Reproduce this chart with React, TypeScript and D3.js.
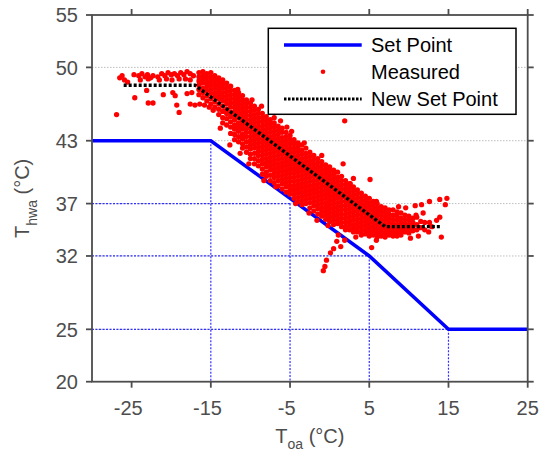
import * as d3 from 'd3';
import React from 'react';

// axis ticks
const xTicks = [-25, -15, -5, 5, 15, 25];
const yTicks = [20, 25, 32, 37, 43, 50, 55];

// design set point curve
const setPointX = [-30, -15, 5, 15, 25];
const setPointY = [43, 43, 32, 25, 25];

// proposed set point curve
const newSetPointX = [-26, -17, 7, 14];
const newSetPointY = [48.3, 48.3, 34.8, 34.8];

// dotted guide lines dropped from the set point breaks
const guideX = [-15, -5, 5, 15];
const guideY = [43, 37, 32, 25];

// measured cloud, read column by column: [T_oa, list of T_hwa]
const measuredColumns: [number, number[]][] = [
  [-16.5, [49.5, 49.1, 48.7, 48.3, 47.9, 47.4]],
  [-16.0, [49.6, 49.2, 48.9, 48.5, 48.0, 47.6, 47.1]],
  [-15.5, [49.4, 49.0, 48.6, 48.2, 47.8, 47.3, 46.8]],
  [-15.0, [49.5, 49.1, 48.7, 48.3, 47.9, 47.5, 47.0, 46.5]],
  [-14.5, [49.2, 48.8, 48.4, 48.0, 47.6, 47.2, 46.7, 46.2]],
  [-14.0, [49.0, 48.6, 48.2, 47.8, 47.4, 47.0, 46.5, 46.0, 45.5]],
  [-13.5, [48.8, 48.4, 48.0, 47.6, 47.2, 46.8, 46.3, 45.8, 45.2, 44.7]],
  [-13.0, [48.5, 48.1, 47.7, 47.3, 46.9, 46.5, 46.0, 45.6, 45.1, 44.5]],
  [-12.5, [48.2, 47.8, 47.4, 47.0, 46.6, 46.2, 45.7, 45.3, 44.8, 44.3, 43.7]],
  [-12.0, [47.8, 47.4, 47.0, 46.6, 46.2, 45.8, 45.4, 45.0, 44.5, 44.1, 43.6, 43.1]],
  [-11.5, [47.6, 47.2, 46.8, 46.4, 46.0, 45.6, 45.2, 44.7, 44.3, 43.9, 43.4, 42.9]],
  [-11.0, [47.3, 46.9, 46.5, 46.1, 45.7, 45.3, 44.9, 44.5, 44.1, 43.6, 43.2, 42.7, 42.3]],
  [-10.5, [46.9, 46.6, 46.2, 45.8, 45.4, 45.0, 44.6, 44.2, 43.8, 43.4, 42.9, 42.4, 41.9]],
  [-10.0, [46.6, 46.2, 45.8, 45.4, 45.0, 44.6, 44.2, 43.8, 43.4, 43.0, 42.6, 42.2, 41.7, 41.3]],
  [-9.5, [46.3, 45.9, 45.5, 45.1, 44.7, 44.3, 43.9, 43.5, 43.1, 42.7, 42.3, 41.8, 41.3, 40.8]],
  [-9.0, [46.0, 45.6, 45.2, 44.8, 44.4, 44.0, 43.6, 43.2, 42.8, 42.4, 42.0, 41.6, 41.1, 40.6]],
  [-8.5, [45.6, 45.2, 44.8, 44.4, 44.0, 43.6, 43.2, 42.8, 42.4, 42.0, 41.6, 41.2, 40.8, 40.3, 39.8]],
  [-8.0, [45.3, 44.9, 44.5, 44.1, 43.7, 43.3, 42.9, 42.5, 42.1, 41.7, 41.3, 40.9, 40.5, 40.0, 39.6]],
  [-7.5, [45.0, 44.6, 44.2, 43.8, 43.4, 43.0, 42.6, 42.2, 41.8, 41.4, 41.0, 40.6, 40.2, 39.7, 39.2]],
  [-7.0, [44.7, 44.3, 43.9, 43.5, 43.1, 42.7, 42.3, 41.9, 41.5, 41.1, 40.7, 40.3, 39.9, 39.5, 39.0]],
  [-6.5, [44.4, 44.0, 43.6, 43.2, 42.8, 42.4, 42.0, 41.6, 41.2, 40.8, 40.4, 40.0, 39.6, 39.2, 38.7]],
  [-6.0, [44.2, 43.8, 43.3, 42.9, 42.5, 42.1, 41.7, 41.3, 40.9, 40.5, 40.1, 39.7, 39.3, 38.9, 38.4]],
  [-5.5, [43.8, 43.4, 43.0, 42.6, 42.2, 41.8, 41.4, 41.0, 40.6, 40.2, 39.8, 39.4, 39.0, 38.6, 38.1]],
  [-5.0, [43.5, 43.1, 42.7, 42.3, 41.9, 41.5, 41.1, 40.7, 40.3, 39.9, 39.5, 39.1, 38.7, 38.3, 37.9]],
  [-4.5, [43.1, 42.7, 42.3, 41.9, 41.5, 41.1, 40.7, 40.3, 39.9, 39.5, 39.1, 38.7, 38.3, 37.9, 37.5]],
  [-4.0, [42.8, 42.4, 42.0, 41.6, 41.2, 40.8, 40.4, 40.0, 39.6, 39.2, 38.8, 38.4, 38.0, 37.6, 37.2]],
  [-3.5, [42.6, 42.1, 41.7, 41.3, 40.9, 40.5, 40.1, 39.7, 39.3, 38.9, 38.5, 38.1, 37.7, 37.3, 36.9]],
  [-3.0, [42.3, 41.8, 41.4, 41.0, 40.6, 40.2, 39.8, 39.4, 39.0, 38.6, 38.2, 37.8, 37.4, 37.0]],
  [-2.5, [41.9, 41.5, 41.1, 40.7, 40.3, 39.9, 39.5, 39.1, 38.7, 38.3, 37.9, 37.5, 37.1, 36.6]],
  [-2.0, [41.6, 41.2, 40.8, 40.4, 40.0, 39.6, 39.2, 38.8, 38.4, 38.0, 37.6, 37.2, 36.8, 36.3]],
  [-1.5, [41.3, 40.9, 40.5, 40.1, 39.7, 39.3, 38.9, 38.5, 38.1, 37.7, 37.3, 36.9, 36.5, 36.0]],
  [-1.0, [41.0, 40.6, 40.2, 39.8, 39.4, 39.0, 38.6, 38.2, 37.8, 37.4, 37.0, 36.6, 36.2, 35.8]],
  [-0.5, [40.7, 40.3, 39.9, 39.5, 39.1, 38.7, 38.3, 37.9, 37.5, 37.1, 36.7, 36.3, 35.9, 35.5]],
  [0.0, [40.5, 40.1, 39.7, 39.3, 38.9, 38.5, 38.1, 37.7, 37.3, 36.9, 36.5, 36.1, 35.7, 35.3]],
  [0.5, [40.2, 39.8, 39.4, 39.0, 38.6, 38.2, 37.8, 37.4, 37.0, 36.6, 36.2, 35.8, 35.4, 35.0]],
  [1.0, [40.0, 39.5, 39.1, 38.7, 38.3, 37.9, 37.5, 37.1, 36.7, 36.3, 35.9, 35.5, 35.1]],
  [1.5, [39.6, 39.2, 38.8, 38.4, 38.0, 37.6, 37.2, 36.8, 36.4, 36.0, 35.6, 35.2, 34.8]],
  [2.0, [39.2, 38.8, 38.4, 38.0, 37.6, 37.2, 36.8, 36.4, 36.0, 35.6, 35.2, 34.8, 34.5]],
  [2.5, [38.9, 38.5, 38.1, 37.7, 37.3, 36.9, 36.5, 36.1, 35.7, 35.3, 34.9, 34.5]],
  [3.0, [38.6, 38.2, 37.8, 37.4, 37.0, 36.6, 36.2, 35.8, 35.4, 35.0, 34.6, 34.3]],
  [3.5, [38.3, 37.9, 37.5, 37.1, 36.7, 36.3, 35.9, 35.5, 35.1, 34.7, 34.3]],
  [4.0, [38.0, 37.6, 37.2, 36.8, 36.4, 36.0, 35.6, 35.2, 34.8, 34.4, 34.0]],
  [4.5, [37.7, 37.3, 36.9, 36.5, 36.1, 35.7, 35.3, 34.9, 34.5, 34.1]],
  [5.0, [37.5, 37.1, 36.7, 36.3, 35.9, 35.5, 35.1, 34.7, 34.3, 33.9]],
  [5.5, [37.2, 36.8, 36.4, 36.0, 35.6, 35.2, 34.8, 34.4, 34.0]],
  [6.0, [37.0, 36.6, 36.2, 35.8, 35.4, 35.0, 34.6, 34.2, 33.8]],
  [6.5, [36.7, 36.3, 35.9, 35.5, 35.1, 34.7, 34.3, 33.9]],
  [7.0, [36.6, 36.2, 35.8, 35.4, 35.0, 34.6, 34.2, 33.8]],
  [7.5, [36.4, 36.0, 35.6, 35.2, 34.8, 34.4, 34.0]],
  [8.0, [36.4, 35.9, 35.5, 35.1, 34.7, 34.3, 33.9]],
  [8.5, [36.2, 35.8, 35.4, 35.0, 34.6, 34.2, 33.9]],
  [9.0, [36.1, 35.6, 35.2, 34.8, 34.4, 34.0]],
  [9.5, [35.9, 35.5, 35.1, 34.7, 34.3]],
  [10.0, [35.8, 35.4, 35.0, 34.6, 34.2]],
  [10.5, [35.6, 35.2, 34.8, 34.4]],
  [11.0, [35.7, 35.0, 34.5]],
  [11.5, [35.3, 34.7]],
  [12.0, [35.2, 34.5]],
];

// measured points outside the dense band
const measuredScatter: [number, number][] = [
  [-26.9, 45.5], [-26.5, 49.0], [-26.2, 49.2], [-25.9, 48.8], [-25.5, 48.6],
  [-24.7, 49.3], [-24.6, 47.1], [-24.1, 49.2], [-23.9, 48.8], [-23.7, 49.4],
  [-23.3, 49.1], [-23.0, 49.3], [-22.9, 48.9], [-22.6, 49.0], [-22.3, 49.2],
  [-23.1, 47.8], [-22.9, 46.6], [-22.3, 46.6], [-21.7, 49.1], [-21.5, 48.8],
  [-21.2, 49.4], [-20.8, 49.2], [-20.6, 48.9], [-20.4, 49.5], [-20.0, 49.3],
  [-19.9, 48.8], [-19.6, 49.4], [-19.2, 49.2], [-19.0, 48.9], [-18.8, 49.5],
  [-18.4, 49.3], [-18.2, 48.9], [-18.0, 49.6], [-17.6, 49.4], [-17.6, 48.8],
  [-17.2, 49.2], [-21.0, 47.4], [-19.8, 47.6], [-19.5, 47.3], [-19.3, 46.4],
  [-19.0, 45.7], [-18.0, 47.5], [-17.4, 47.6], [-17.6, 46.5], [-17.0, 46.4],
  [-16.4, 46.5], [-15.8, 46.4], [-15.2, 46.2], [-14.7, 45.9],
  [-11.6, 47.9], [-8.6, 46.3], [-7.0, 45.2], [-6.2, 44.9], [-5.4, 44.3],
  [-3.2, 42.8], [-1.0, 41.6], [1.7, 40.8], [1.9, 44.9], [3.0, 39.4],
  [5.1, 39.3], [2.6, 38.9], [5.9, 37.2], [-9.8, 46.9], [-4.8, 43.9],
  [-12.6, 42.6], [-11.3, 41.8], [-10.2, 40.8], [-8.3, 39.2], [-4.3, 37.0],
  [-2.6, 36.1], [-1.6, 35.4], [5.9, 33.5], [6.1, 34.1], [5.3, 32.8],
  [-13.8, 44.2], [-6.8, 38.6], [-0.2, 34.9], [3.3, 33.8],
  [1.9, 33.5], [1.4, 32.9], [1.1, 34.0], [0.9, 33.4], [0.5, 32.7],
  [0.1, 32.3], [-0.4, 31.6], [-0.6, 31.0], [-0.8, 30.6],
  [10.8, 36.8], [11.6, 36.9], [12.6, 37.2], [13.9, 37.4], [14.8, 37.5],
  [14.6, 36.9], [11.8, 36.1], [12.6, 35.2], [13.5, 35.4], [13.9, 35.7],
  [12.5, 34.3], [14.1, 33.8], [9.6, 36.6], [8.7, 36.7], [10.2, 33.7],
  [11.2, 33.9], [12.9, 34.8], [10.9, 35.9],
];

const legendItems = ['Set Point', 'Measured', 'New Set Point'];

const font = "'Liberation Sans', Arial, sans-serif";
const axisColor = '#4d4d4d';

export default function App() {
  const width = 540;
  const height = 452;
  const left = 92;
  const right = 527.7;
  const top = 15;
  const bottom = 381.7;

  const xScale = d3.scaleLinear().domain([-30, 25]).range([left, right]);
  const yScale = d3.scaleLinear().domain([20, 55]).range([bottom, top]);

  const line = d3
    .line<[number, number]>()
    .x(d => xScale(d[0]))
    .y(d => yScale(d[1]));

  const setPoint = setPointX.map((x, i) => [x, setPointY[i]] as [number, number]);
  const newSetPoint = newSetPointX.map((x, i) => [x, newSetPointY[i]] as [number, number]);

  const measured: [number, number][] = [];
  measuredColumns.forEach(([x, ys]) => ys.forEach(y => measured.push([x, y])));
  measuredScatter.forEach(p => measured.push(p));

  const legendX = 268.3;
  const legendY = 28.3;
  const rowY = [45, 71.7, 99];

  return (
    <svg
      width={width}
      height={height}
      style={{ position: 'absolute', left: 0, top: 0, background: '#fff' }}
      fontFamily={font}
    >
      {/* horizontal grid */}
      {yTicks.slice(1, -1).map(t => (
        <line
          key={'g' + t}
          x1={left}
          x2={right}
          y1={yScale(t)}
          y2={yScale(t)}
          stroke="#bdbdbd"
          strokeWidth={1}
          strokeDasharray="1.5,1.5"
        />
      ))}

      {/* guide lines */}
      {guideX.map((gx, i) => (
        <g key={'guide' + i} stroke="#3030ff" strokeWidth={1.2} strokeDasharray="2,1.5" fill="none">
          <line x1={xScale(-30)} x2={xScale(gx)} y1={yScale(guideY[i])} y2={yScale(guideY[i])} />
          <line x1={xScale(gx)} x2={xScale(gx)} y1={yScale(guideY[i])} y2={yScale(20)} />
        </g>
      ))}

      <path d={line(setPoint) || ''} fill="none" stroke="#0000ff" strokeWidth={3.5} />

      <g fill="#ff0000">
        {measured.map((d, i) => (
          <circle key={i} cx={xScale(d[0])} cy={yScale(d[1])} r={2.65} />
        ))}
      </g>

      <path
        d={line(newSetPoint) || ''}
        fill="none"
        stroke="#000"
        strokeWidth={3.4}
        strokeDasharray="3,2"
      />

      {/* axes box */}
      <rect
        x={left}
        y={top}
        width={right - left}
        height={bottom - top}
        fill="none"
        stroke={axisColor}
        strokeWidth={1.8}
      />
      {xTicks.map(t => (
        <g key={'xt' + t} stroke={axisColor} strokeWidth={1.8}>
          <line x1={xScale(t)} x2={xScale(t)} y1={bottom} y2={bottom + 6} />
          <line x1={xScale(t)} x2={xScale(t)} y1={top} y2={top - 6} />
        </g>
      ))}
      {yTicks.map(t => (
        <g key={'yt' + t} stroke={axisColor} strokeWidth={1.8}>
          <line x1={left} x2={left - 6} y1={yScale(t)} y2={yScale(t)} />
          <line x1={right} x2={right + 6} y1={yScale(t)} y2={yScale(t)} />
        </g>
      ))}
      {xTicks.map(t => (
        <text
          key={'xl' + t}
          x={xScale(t)}
          dx={t < 0 ? -3.4 : 0}
          y={415}
          textAnchor="middle"
          fontSize={20}
          fill={axisColor}
        >
          {t}
        </text>
      ))}
      {yTicks.map(t => (
        <text
          key={'yl' + t}
          x={78}
          y={yScale(t)}
          dy="0.36em"
          textAnchor="end"
          fontSize={20}
          fill={axisColor}
        >
          {t}
        </text>
      ))}

      {/* axis labels */}
      <text x={(left + right) / 2} y={443} textAnchor="middle" fontSize={20} fill={axisColor}>
        T
        <tspan dy={6} fontSize={14}>oa</tspan>
        <tspan dy={-6}> (°C)</tspan>
      </text>
      <text
        transform={`translate(29,${(top + bottom) / 2}) rotate(-90)`}
        textAnchor="middle"
        fontSize={20}
        fill={axisColor}
      >
        T
        <tspan dy={8} fontSize={14}>hwa</tspan>
        <tspan dy={-8}> (°C)</tspan>
      </text>

      {/* legend */}
      <rect
        x={legendX}
        y={legendY}
        width={516 - legendX}
        height={114.3 - legendY}
        fill="#fff"
        stroke="#000"
        strokeWidth={1.5}
      />
      <line x1={284} x2={361.7} y1={rowY[0]} y2={rowY[0]} stroke="#0000ff" strokeWidth={3.5} />
      <circle cx={323} cy={rowY[1]} r={2.3} fill="#ff0000" />
      <line
        x1={284}
        x2={361.7}
        y1={rowY[2]}
        y2={rowY[2]}
        stroke="#000"
        strokeWidth={3}
        strokeDasharray="2.5,1.5"
      />
      {legendItems.map((name, i) => (
        <text key={name} x={371} y={rowY[i]} dy="0.36em" fontSize={20} fill="#000">
          {name}
        </text>
      ))}
    </svg>
  );
}
